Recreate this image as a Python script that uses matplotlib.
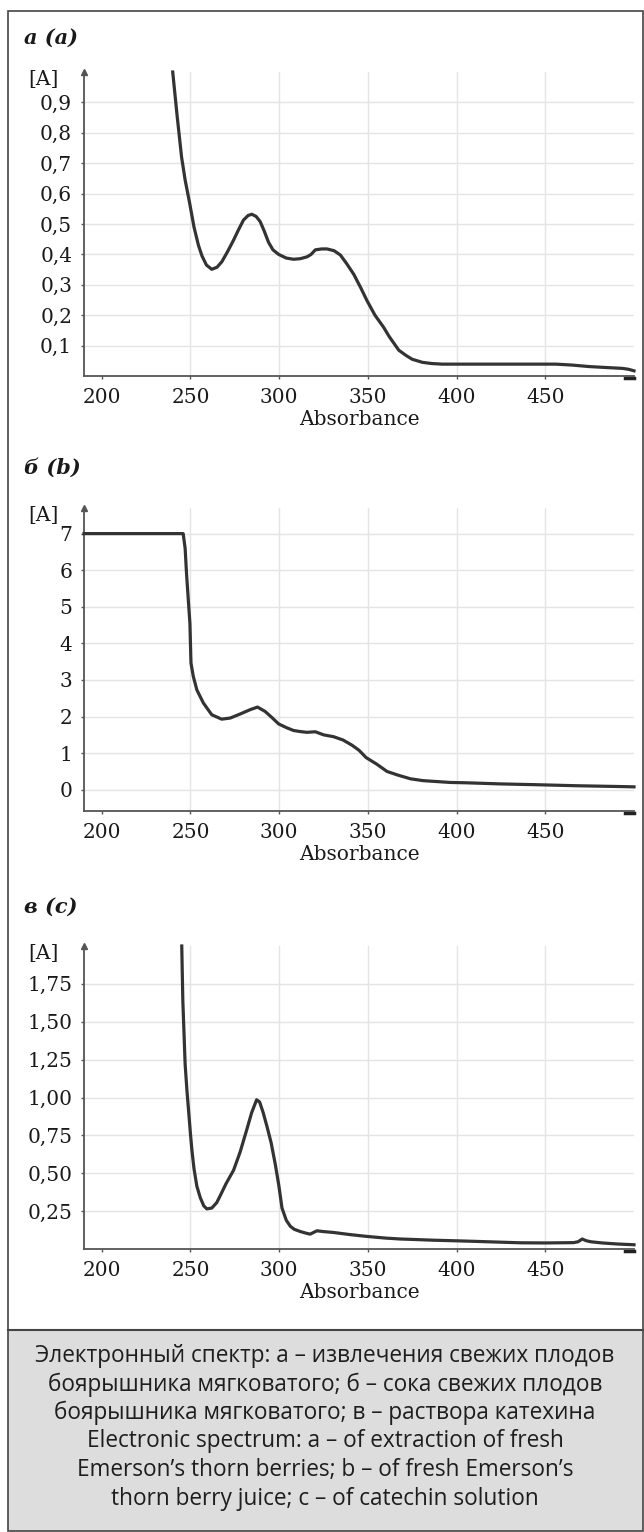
import matplotlib
matplotlib.use("Agg")
import matplotlib.pyplot as plt
import matplotlib.ticker as ticker
from matplotlib.patches import Rectangle
from matplotlib.lines import Line2D

W, H = 644, 1532

# panel a: extraction of fresh berries
wl_a = [240, 242.5, 245, 247, 249.5, 252, 254.5, 256.5, 259, 262, 265, 267.7, 271, 274.3, 277,
        279.9, 282.5, 284.6, 287, 289.3, 291.5, 294, 296.5, 299.7, 304, 308.1, 312, 315.7, 318,
        320.4, 324, 327, 331, 334.5, 338, 342, 346, 349.5, 354, 358.9, 362, 367.4, 371.4, 375,
        380.7, 386, 392, 400, 420, 440, 456, 465, 474.8, 484, 493.6, 497, 500]
abs_a = [1.0, 0.855, 0.72, 0.645, 0.57, 0.49, 0.43, 0.395, 0.365, 0.351, 0.358, 0.376, 0.41,
         0.447, 0.48, 0.513, 0.528, 0.532, 0.525, 0.508, 0.478, 0.44, 0.415, 0.4, 0.388, 0.384,
         0.386, 0.392, 0.40, 0.415, 0.418, 0.418, 0.412, 0.398, 0.37, 0.335, 0.29, 0.248, 0.20,
         0.16, 0.13, 0.085, 0.068, 0.055, 0.045, 0.041, 0.039, 0.039, 0.039, 0.039, 0.039, 0.036,
         0.031, 0.028, 0.025, 0.022, 0.017]

# panel b: juice of fresh berries
wl_b = [190, 200, 220, 240, 245.9, 247.0, 247.8, 248.8, 249.7, 250.3, 251.6, 253.6, 257.3, 262,
        267.6, 272.4, 278, 283.7, 287.8, 292.1, 296, 299.7, 304, 308.1, 312, 315.6, 320.4, 325.1,
        330.7, 336, 341, 345, 349, 355, 360.8, 367, 374, 381, 387.1, 396.5, 406, 424.8, 443.6,
        468, 490.6, 500]
abs_b = [7.0, 7.0, 7.0, 7.0, 7.0, 6.6, 5.9, 5.18, 4.55, 3.46, 3.10, 2.73, 2.37, 2.05, 1.93, 1.96,
         2.07, 2.19, 2.26, 2.14, 1.97, 1.80, 1.70, 1.62, 1.59, 1.57, 1.585, 1.50, 1.45, 1.36, 1.22,
         1.08, 0.88, 0.70, 0.50, 0.40, 0.30, 0.25, 0.23, 0.20, 0.19, 0.16, 0.14, 0.11, 0.09, 0.08]

# panel c: catechin solution
wl_c = [245.1, 245.7, 247, 248, 248.9, 250, 250.8, 252, 253.6, 255.5, 257.5, 259.2, 262, 264.8,
        266.7, 270, 274.3, 278, 281.8, 284.5, 287.3, 289, 291, 293.1, 295.5, 297.8, 299.8, 301.6,
        304, 306.3, 308.5, 312, 315, 317.5, 319.5, 321.3, 325, 330.7, 340, 349.5, 360, 368.3, 378,
        387.1, 400, 411.5, 425, 436, 450, 466, 468.5, 470.8, 473, 475.5, 482, 490.6, 500]
abs_c = [2.0, 1.64, 1.22, 1.05, 0.92, 0.76, 0.655, 0.53, 0.415, 0.34, 0.285, 0.265, 0.27, 0.306,
         0.35, 0.43, 0.52, 0.64, 0.79, 0.90, 0.985, 0.97, 0.90, 0.81, 0.70, 0.56, 0.42, 0.27, 0.19,
         0.15, 0.13, 0.115, 0.105, 0.098, 0.11, 0.12, 0.115, 0.109, 0.095, 0.083, 0.072, 0.066,
         0.062, 0.058, 0.054, 0.05, 0.045, 0.041, 0.04, 0.042, 0.048, 0.066, 0.055, 0.048, 0.04,
         0.033, 0.028]

x_ticks = [200, 250, 300, 350, 400, 450]
titles = ['а (a)', 'б (b)', 'в (c)']
y_ticks = [[0.1, 0.2, 0.3, 0.4, 0.5, 0.6, 0.7, 0.8, 0.9],
           [0, 1, 2, 3, 4, 5, 6, 7],
           [0.25, 0.50, 0.75, 1.00, 1.25, 1.50, 1.75]]
y_fmt = ['{:.1f}', '{:.0f}', '{:.2f}']
y_lims = [(0, 1.0), (-0.58, 7.7), (0, 2.0)]
caption = ['Электронный спектр: а – извлечения свежих плодов',
           'боярышника мягковатого; б – сока свежих плодов',
           'боярышника мягковатого; в – раствора катехина',
           'Electronic spectrum: a – of extraction of fresh',
           'Emerson’s thorn berries; b – of fresh Emerson’s',
           'thorn berry juice; c – of catechin solution']

# pixel boxes (left, top, right, bottom) of each plot area and title rows
boxes = [(84, 72, 634, 376), (84, 508, 634, 811), (84, 946, 634, 1249)]
title_y = [38, 468, 907]

SERIF = 'DejaVu Serif'
AX_COL = '#555555'
LINE_COL = '#333333'

fig = plt.figure(figsize=(W / 100, H / 100), dpi=100)
fig.patch.set_facecolor('white')


def px_rect(l, t, r, b):
    return [l / W, 1 - b / H, (r - l) / W, (b - t) / H]


series = [(wl_a, abs_a), (wl_b, abs_b), (wl_c, abs_c)]
for i, (wl, ab) in enumerate(series):
    l, t, r, b = boxes[i]
    ax = fig.add_axes(px_rect(l, t, r, b))
    ax.plot(wl, ab, color=LINE_COL, lw=2.3, solid_joinstyle='round', zorder=3, clip_on=False)
    ax.set_xlim(190, 500)
    ax.set_ylim(*y_lims[i])
    ax.set_xticks(x_ticks)
    ax.set_yticks(y_ticks[i])
    fmt = y_fmt[i]
    ax.yaxis.set_major_formatter(ticker.FuncFormatter(lambda v, p, f=fmt: f.format(v).replace('.', ',')))
    ax.grid(True, color='#e4e4e4', lw=1.0, zorder=0)
    ax.get_xgridlines()[0].set_visible(False)
    for s in ['top', 'right']:
        ax.spines[s].set_visible(False)
    for s in ['left', 'bottom']:
        ax.spines[s].set_color(AX_COL)
        ax.spines[s].set_linewidth(1.3)
    ax.tick_params(axis='both', colors=AX_COL, length=2.5, width=1, labelcolor='#1a1a1a',
                   labelsize=14.5)
    ax.tick_params(axis='y', pad=6)
    ax.tick_params(axis='x', pad=6)
    for lab in ax.get_xticklabels() + ax.get_yticklabels():
        lab.set_fontfamily(SERIF)
    ax.set_xlabel('Absorbance', fontsize=14.5, family=SERIF, color='#1a1a1a', labelpad=2)
    # axis arrows
    ax.plot(0, 1, marker='^', ms=5, color=AX_COL, transform=ax.transAxes, clip_on=False)
    ax.plot([0.983, 1.0], [-0.006, -0.006], color='#222222', lw=2.5,
            transform=ax.transAxes, clip_on=False)
    fig.text(59 / W, 1 - (t + 7) / H, '[A]', ha='right', va='center', fontsize=14.5,
             family=SERIF, color='#1a1a1a')
    fig.text(24 / W, 1 - title_y[i] / H, titles[i], ha='left', va='center', fontsize=15,
             family=SERIF, fontweight='bold', fontstyle='italic', color='#1a1a1a')

# caption box and outer frame
fig.patches.append(Rectangle((8 / W, 1 / H), 635 / W, (1531 - 1330) / H,
                             transform=fig.transFigure, facecolor='#dddddd', edgecolor='none',
                             zorder=0))
fig.lines.append(Line2D([8 / W, 643 / W], [1 - 1330 / H, 1 - 1330 / H], transform=fig.transFigure,
                        color='#444444', lw=1.5))
fig.patches.append(Rectangle((8 / W, 1 / H), 635 / W, (1531 - 11) / H, transform=fig.transFigure,
                             facecolor='none', edgecolor='#444444', lw=1.2, zorder=5))

cap_y = [1356, 1385, 1413, 1441, 1470, 1499]
for txt, yy in zip(caption, cap_y):
    fig.text(0.5 + 3 / W, 1 - yy / H, txt, ha='center', va='center', fontsize=16.3,
             family=['Open Sans', 'DejaVu Sans'], color='#1e1e1e')

fig.savefig('out.png', dpi=100)
